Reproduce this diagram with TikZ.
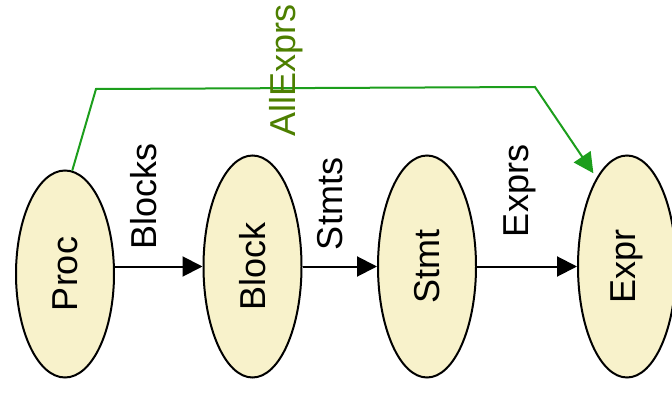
\documentclass[tikz,border=0pt]{standalone}
\usepackage{fontspec}
\setmainfont{Liberation Sans}
\usetikzlibrary{arrows.meta,shapes.geometric}
\definecolor{nodefill}{HTML}{F8F2CB}
\definecolor{linkgreen}{HTML}{1C9E1C}
\definecolor{labelgreen}{HTML}{4D7F00}
\begin{document}
\begin{tikzpicture}[x=1pt,y=-1pt,
  entity/.style={ellipse, draw=black, line width=2pt, fill=nodefill,
    minimum width=98pt, minimum height=222pt, inner sep=0pt,
    font=\fontsize{36}{40}\selectfont},
  rel/.style={-{Triangle[length=20pt,width=20pt]}, line width=2pt},
  link/.style={-{Triangle[length=20pt,width=20pt]}, line width=2pt, draw=linkgreen},
  edgelabel/.style={rotate=90, inner sep=0pt, font=\fontsize{36}{40}\selectfont},
]
\useasboundingbox (0,0) rectangle (672,398);

% entities
\node[entity, minimum height=207pt] (proc) at (65,274) {\rotatebox{90}{Proc}};
\node[entity] (block) at (252.5,266.5) {\rotatebox{90}{Block}};
\node[entity] (stmt) at (427,266.5) {\rotatebox{90}{Stmt}};
\node[entity] (expr) at (627,266.5) {\rotatebox{90}{Expr}};

% containment chain
\draw[rel] (proc.east |- block.west) -- (block.west);
\draw[rel] (block.east) -- (stmt.west);
\draw[rel] (stmt.east) -- (expr.west);

\node[edgelabel] (lblocks) at (143.5,196.5) {Blocks};
\node[edgelabel] (lstmts) at (330,204) {Stmts};
\node[edgelabel] (lexprs) at (519.5,191) {Exprs};

% shortcut from procedures to all expressions
\draw[link, shorten >=5.5pt] (proc.86) -- (96,89) -- (535,87) -- (expr.109);
\node[edgelabel, text=labelgreen] (lall) at (286,70.5) {AllExprs};
\end{tikzpicture}
\end{document}
